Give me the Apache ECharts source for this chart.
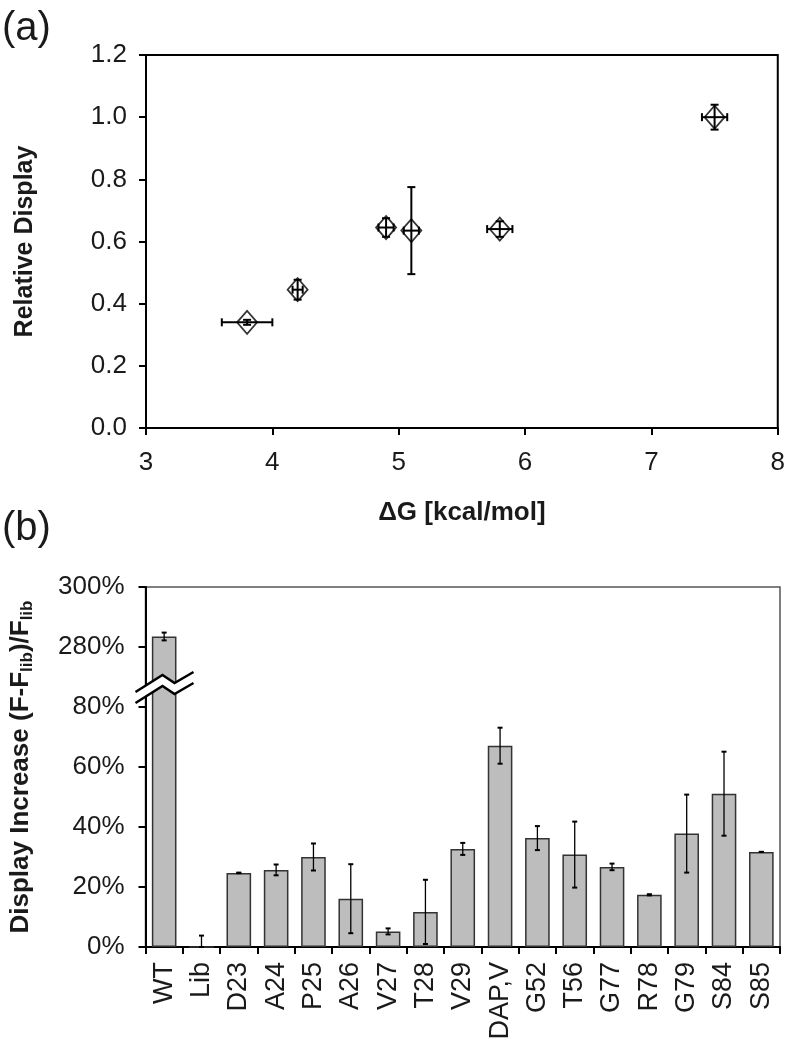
<!DOCTYPE html>
<html>
<head>
<meta charset="utf-8">
<script src="https://cdn.jsdelivr.net/npm/echarts@6/dist/echarts.min.js"></script>
<style>
html,body{margin:0;padding:0;background:#fff;}
#c{width:788px;height:1050px;}
</style>
</head>
<body>
<div id="c"></div>
<script>
// ---------- Panel (a) data ----------
const dG = [3.8, 4.2, 4.9, 5.1, 5.8, 7.5];
const relDisplay = [0.34, 0.445, 0.645, 0.635, 0.64, 1.0];
const dGErr = [0.2, 0.04, 0.06, 0.06, 0.1, 0.1];
const relErr = [0.008, 0.032, 0.03, 0.14, 0.025, 0.04];

// ---------- Panel (b) data ----------
const mutants = ['WT','Lib','D23','A24','P25','A26','V27','T28','V29','DAP,V','G52','T56','G77','R78','G79','S84','S85'];
const increase = [283.5, 0, 24.7, 25.7, 30.0, 16.1, 5.2, 11.7, 32.7, 67.1, 36.3, 30.8, 26.7, 17.4, 37.8, 51.1, 31.7];
const increaseErr = [1.3, 3.8, 0.1, 1.8, 4.5, 11.5, 1.0, 10.7, 2.0, 6.0, 4.0, 11.0, 1.1, 0.2, 13.0, 14.0, 0];
const yTickLabelsB = ['0%','20%','40%','60%','80%','280%','300%'];
const breakOffset = 180; // axis break: 80% ... 280%

const FONT = 'Liberation Sans, Arial, sans-serif';
const TXT = '#1a1a1a';

function toAxisB(v){ return v > 100 ? v - breakOffset : v; }

const scatterData = dG.map((x,i)=>[x, relDisplay[i]]);
const errDataA = dG.map((x,i)=>[x, relDisplay[i], dGErr[i], relErr[i]]);
const barData = increase.map(toAxisB);
const errDataB = increase.map((v,i)=>{
  const lo = Math.max(0, v - increaseErr[i]);
  const hi = v + increaseErr[i];
  return [i, toAxisB(lo), toAxisB(hi)];
});

const chart = echarts.init(document.getElementById('c'), null, {renderer:'canvas'});

function capLine(x1,y1,x2,y2,w){
  return {type:'line', shape:{x1,y1,x2,y2}, style:{stroke:'#000', lineWidth:w}};
}

const option = {
  backgroundColor:'#fff',
  animation:false,
  textStyle:{fontFamily:FONT},
  grid:[
    {left:146, right:9, top:55, height:373, show:true, borderColor:'#000', borderWidth:2, backgroundColor:'transparent'},
    {left:143, right:8, top:587, height:360, show:true, borderColor:'#555', borderWidth:1.5, backgroundColor:'transparent'}
  ],
  xAxis:[
    {gridIndex:0, type:'value', min:3, max:8, interval:1,
     axisLine:{lineStyle:{color:'#000', width:2}},
     axisTick:{show:true, length:7, lineStyle:{color:'#000', width:2}},
     axisLabel:{fontSize:26, color:TXT, margin:22, fontFamily:FONT},
     splitLine:{show:false},
     name:'ΔG [kcal/mol]', nameLocation:'middle', nameGap:72,
     nameTextStyle:{fontSize:26, fontWeight:'bold', color:TXT, fontFamily:FONT}},
    {gridIndex:1, type:'category', data:mutants,
     axisLine:{lineStyle:{color:'#000', width:2}},
     axisTick:{show:true, length:7, alignWithLabel:false, lineStyle:{color:'#000', width:2}},
     axisLabel:{rotate:90, interval:0, fontSize:27, color:TXT, margin:15, fontFamily:FONT},
     splitLine:{show:false}}
  ],
  yAxis:[
    {gridIndex:0, type:'value', min:0, max:1.2, interval:0.2,
     axisLine:{show:true, lineStyle:{color:'#000', width:2}},
     axisTick:{show:true, length:7, lineStyle:{color:'#000', width:2}},
     axisLabel:{fontSize:26, color:TXT, margin:19, fontFamily:FONT, formatter:v=>v.toFixed(1)},
     splitLine:{show:false},
     name:'Relative Display', nameLocation:'middle', nameGap:108, nameRotate:90,
     nameTextStyle:{fontSize:25, fontWeight:'bold', color:TXT, fontFamily:FONT}},
    {gridIndex:1, type:'value', min:0, max:120, interval:20,
     axisLine:{show:true, lineStyle:{color:'#000', width:2}},
     axisTick:{show:true, length:7, lineStyle:{color:'#000', width:2}},
     axisLabel:{fontSize:26, color:TXT, margin:21, fontFamily:FONT,
       formatter:v=>yTickLabelsB[Math.round(v/20)]},
     splitLine:{show:false},
     name:'Display Increase (F-F{sub|lib})/F{sub|lib}', nameLocation:'middle', nameGap:110, nameRotate:90,
     nameTextStyle:{fontSize:26, fontWeight:'bold', color:TXT, fontFamily:FONT, padding:[0,0,0,0],
       rich:{sub:{fontSize:17, fontWeight:'bold', color:TXT, fontFamily:FONT, padding:[12,0,0,0]}}}}
  ],
  series:[
    {type:'custom', xAxisIndex:0, yAxisIndex:0, data:errDataA, z:3,
     renderItem:function(params, api){
       const x=api.value(0), y=api.value(1), ex=api.value(2), ey=api.value(3);
       const L=api.coord([x-ex,y]), R=api.coord([x+ex,y]);
       const T=api.coord([x,y+ey]), B=api.coord([x,y-ey]);
       const c=4;
       return {type:'group', children:[
         capLine(L[0],L[1],R[0],R[1],2),
         capLine(L[0],L[1]-c,L[0],L[1]+c,2),
         capLine(R[0],R[1]-c,R[0],R[1]+c,2),
         capLine(T[0],T[1],B[0],B[1],2),
         capLine(T[0]-c,T[1],T[0]+c,T[1],2),
         capLine(B[0]-c,B[1],B[0]+c,B[1],2)
       ]};
     }},
    {type:'scatter', xAxisIndex:0, yAxisIndex:0, data:scatterData, z:4,
     symbol:'diamond', symbolSize:[20,23],
     itemStyle:{color:'rgba(255,255,255,0)', borderColor:'#000', borderWidth:1.8}},
    {type:'bar', xAxisIndex:1, yAxisIndex:1, data:barData, barWidth:'66%',
     itemStyle:{color:'#bdbdbd', borderColor:'#333', borderWidth:1.5}},
    {type:'custom', xAxisIndex:1, yAxisIndex:1, data:errDataB, z:5,
     renderItem:function(params, api){
       const i=api.value(0), lo=api.value(1), hi=api.value(2);
       const P1=api.coord([i,hi]), P2=api.coord([i,lo]);
       const c=2.5;
       return {type:'group', children:[
         capLine(P1[0],P1[1],P2[0],P2[1],1.3),
         capLine(P1[0]-c,P1[1],P1[0]+c,P1[1],2),
         capLine(P2[0]-c,P2[1],P2[0]+c,P2[1],2)
       ]};
     }}
  ]
};
chart.setOption(option);

// axis-break zigzag on the y axis of panel (b), placed via the axis scale
const gridRect = chart.getModel().getComponent('grid',1).coordinateSystem.getRect();
const x0 = gridRect.x;
const yc = chart.convertToPixel({yAxisIndex:1}, 88);
const up = [[x0-10,yc+9],[x0+17,yc-8],[x0+29,yc],[x0+48,yc-11]];
const lowPts = up.map(p=>[p[0], p[1]+11]);
const poly = up.concat(lowPts.slice().reverse());

chart.setOption({
  graphic:[
    {type:'polygon', shape:{points:poly}, style:{fill:'#fff'}, z:100},
    {type:'polyline', shape:{points:up}, style:{stroke:'#000', lineWidth:2.5, fill:null}, z:101},
    {type:'polyline', shape:{points:lowPts}, style:{stroke:'#000', lineWidth:2.5, fill:null}, z:101},
    {type:'text', left:2, top:9, style:{text:'(a)', fontSize:40, fill:TXT, fontFamily:FONT}, z:101},
    {type:'text', left:2, top:509, style:{text:'(b)', fontSize:40, fill:TXT, fontFamily:FONT}, z:101}
  ]
});
</script>
</body>
</html>
